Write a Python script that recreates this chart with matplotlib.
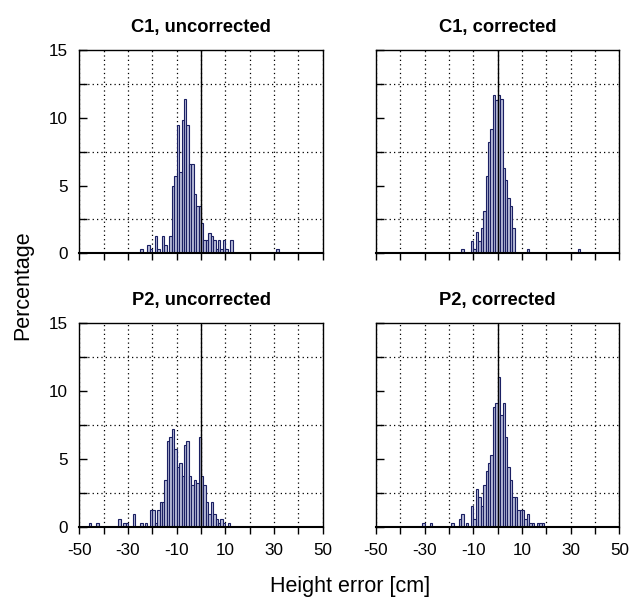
import matplotlib
matplotlib.use("Agg")
import matplotlib.pyplot as plt
import numpy as np

plt.rcParams['font.family'] = ['Liberation Sans', 'DejaVu Sans']

# Histogram data: bin left edges [cm] (bin width 1 cm) and percentages
c1_unc_bins = [-25, -22, -21, -19, -18, -16, -15, -13, -12, -11, -10, -9, -8, -7, -6,
               -5, -4, -3, -2, -1, 0, 1, 2, 3, 4, 5, 6, 7, 8, 9, 10, 12, 31]
c1_unc_pct = [0.3, 0.6, 0.3, 1.25, 0.3, 1.25, 0.6, 1.25, 5.0, 5.7, 9.46, 6.0, 9.8, 11.35, 9.46,
              6.6, 6.6, 4.4, 3.5, 3.5, 2.2, 0.95, 0.95, 1.5, 1.25, 0.95, 0.3, 0.95, 0.3, 0.95, 0.3, 0.95, 0.3]

c1_cor_bins = [-15, -11, -10, -9, -8, -7, -6, -5, -4, -3, -2, -1, 0, 1, 2, 3, 4, 5, 6, 12, 33]
c1_cor_pct = [0.3, 0.93, 0.3, 1.55, 0.93, 1.9, 3.1, 5.7, 8.2, 9.2, 11.67, 11.3, 11.67, 11.35,
              6.3, 5.4, 4.1, 3.5, 1.9, 0.3, 0.3]

p2_unc_bins = [-46, -43, -34, -32, -31, -28, -25, -23, -21, -20, -19, -18, -17, -16, -15, -14,
               -13, -12, -11, -10, -9, -8, -7, -6, -5, -4, -3, -2, -1, 0, 1, 2, 3, 4, 5, 6, 7, 8, 9, 11]
p2_unc_pct = [0.25, 0.25, 0.56, 0.25, 0.25, 0.9, 0.25, 0.25, 1.2, 1.2, 0.25, 1.2, 1.8, 1.8, 3.4, 6.3,
              6.6, 7.2, 5.7, 4.4, 4.7, 3.75, 6.0, 6.3, 3.75, 3.1, 3.4, 3.2, 6.6, 3.75, 3.1, 1.8, 0.9, 1.8,
              0.9, 0.56, 0.25, 0.56, 0.25, 0.25]

p2_cor_bins = [-31, -28, -19, -16, -15, -13, -11, -10, -9, -8, -7, -6, -5, -4, -3, -2, -1, 0, 1, 2,
               3, 4, 5, 6, 7, 8, 9, 10, 11, 12, 13, 14, 16, 17, 18]
p2_cor_pct = [0.25, 0.25, 0.25, 0.56, 0.9, 0.25, 1.55, 0.56, 2.8, 2.2, 1.55, 3.1, 4.1, 4.7, 5.3, 8.8,
              9.1, 11.0, 8.2, 9.1, 6.6, 4.4, 3.4, 2.2, 2.2, 1.2, 1.2, 1.2, 0.56, 0.9, 0.25, 0.25, 0.25,
              0.25, 0.25]

titles = ["C1, uncorrected", "C1, corrected", "P2, uncorrected", "P2, corrected"]
x_ticks = [-50, -40, -30, -20, -10, 0, 10, 20, 30, 40, 50]
x_ticklabels = ["-50", "", "-30", "", "-10", "", "10", "", "30", "", "50"]
y_ticks = [0, 5, 10, 15]

W, H = 632, 597
fig = plt.figure(figsize=(W / 100, H / 100), dpi=100)

def px_axes(l, t, r, b):
    return fig.add_axes([l / W, 1 - b / H, (r - l) / W, (b - t) / H])

boxes = [(79.3, 50, 322.7, 253.3), (376, 50, 619.4, 253.3),
         (79.3, 322.7, 322.7, 526.7), (376, 322.7, 619.4, 526.7)]
data = [(c1_unc_bins, c1_unc_pct), (c1_cor_bins, c1_cor_pct),
        (p2_unc_bins, p2_unc_pct), (p2_cor_bins, p2_cor_pct)]

for i, (box, (bins, pct), title) in enumerate(zip(boxes, data, titles)):
    ax = px_axes(*box)
    ax.bar(bins, pct, width=1.0, align='edge', facecolor='#b7bbd8',
           edgecolor='#1b2063', linewidth=0.8, zorder=2)
    ax.axvline(0, color='black', linewidth=1.0, zorder=3)
    ax.set_xlim(-50, 50)
    ax.set_ylim(0, 15)
    ax.set_xticks(x_ticks)
    ax.set_yticks(y_ticks)
    ax.set_yticks(np.arange(0, 15.01, 2.5), minor=True)
    ax.grid(True, which='major', axis='x', color='black', linestyle=(0, (1, 2.5)), linewidth=0.9, zorder=1)
    ax.grid(True, which='minor', axis='y', color='black', linestyle=(0, (1, 2.5)), linewidth=0.9, zorder=1)
    ax.set_axisbelow(True)
    ax.tick_params(axis='x', direction='out', length=5, width=1.0, pad=7, labelsize=12.3)
    ax.tick_params(axis='y', which='both', direction='in', length=5.5, width=1.0, pad=8, labelsize=12.3)
    for s in ['top', 'left', 'right']:
        ax.spines[s].set_linewidth(1.0)
    ax.spines['bottom'].set_linewidth(1.5)
    if i >= 2:
        ax.set_xticklabels(x_ticklabels)
    else:
        ax.set_xticklabels([])
    if i % 2 == 1:
        ax.set_yticklabels([])
    ax.set_title(title, fontsize=13.2, fontweight='bold', pad=13)

fig.text(23 / W, 1 - 285 / H, "Percentage", rotation=90, ha='center', va='center', fontsize=15.5)
fig.text(350 / W, 1 - 592 / H, "Height error [cm]", ha='center', va='baseline', fontsize=15.5)

fig.savefig("out.png", dpi=100)
